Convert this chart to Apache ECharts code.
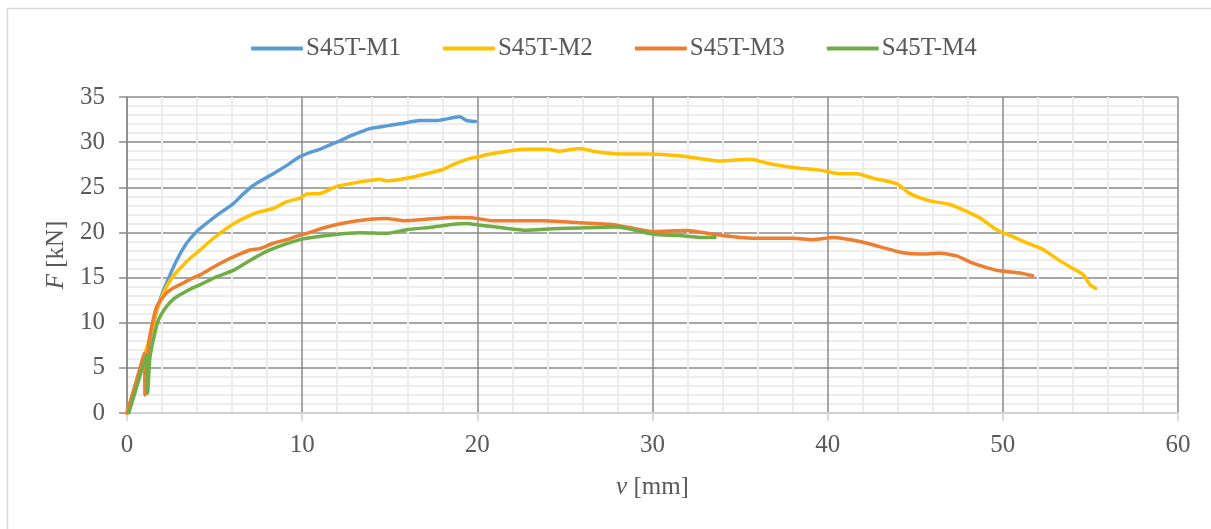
<!DOCTYPE html>
<html>
<head>
<meta charset="utf-8">
<script src="https://cdn.jsdelivr.net/npm/echarts@6/dist/echarts.min.js"></script>
<style>
html,body{margin:0;padding:0;background:#fff;}
#c{width:1211px;height:529px;}
</style>
</head>
<body>
<div id="c"></div>
<script>
// ---- data (v [mm], F [kN]) ----
const seriesNames = ['S45T-M1', 'S45T-M2', 'S45T-M3', 'S45T-M4'];
const xTicks = [0, 10, 20, 30, 40, 50, 60];
const yTicks = [0, 5, 10, 15, 20, 25, 30, 35];

const m1V = [0, 0.5, 1.0, 1.3, 1.5, 1.88, 2.26, 2.83, 3.4, 3.98, 4.6, 5.2, 6.07, 6.6, 7.21, 7.8, 8.35, 9.1, 9.88, 10.5, 11.0, 11.97, 12.9, 13.87, 14.8, 15.8, 16.7, 17.7, 18.6, 19.0, 19.4, 19.9];
const m1F = [0, 3.2, 6.4, 8.0, 9.9, 12.5, 14.4, 16.9, 18.8, 20.1, 21.1, 22.0, 23.2, 24.2, 25.2, 25.9, 26.5, 27.4, 28.4, 28.9, 29.2, 30.0, 30.8, 31.5, 31.8, 32.1, 32.4, 32.4, 32.7, 32.8, 32.4, 32.3];

const m2V = [0, 0.5, 1.0, 1.3, 1.7, 2.26, 2.7, 3.21, 3.7, 4.17, 4.9, 5.69, 6.3, 7.02, 7.59, 8.35, 9.12, 9.88, 10.26, 11.0, 11.97, 13.3, 14.44, 14.8, 15.97, 17.1, 18.06, 18.6, 19.58, 20.15, 20.5, 21.9, 22.8, 23.96, 24.7, 25.86, 26.6, 28.1, 29.67, 30.8, 32.3, 33.85, 34.6, 35.57, 36.5, 38.04, 39.56, 40.7, 41.66, 42.6, 43.94, 44.7, 45.84, 46.98, 47.74, 48.7, 49.65, 50.6, 51.55, 52.3, 53.07, 54.0, 54.6, 54.98, 55.3];
const m2F = [0, 3.2, 6.4, 8.3, 11.4, 14.0, 15.3, 16.4, 17.3, 18.05, 19.3, 20.45, 21.2, 21.9, 22.3, 22.65, 23.4, 23.8, 24.25, 24.3, 25.1, 25.6, 25.9, 25.7, 26.0, 26.5, 27.0, 27.5, 28.2, 28.4, 28.6, 29.05, 29.2, 29.2, 29.0, 29.3, 29.0, 28.7, 28.7, 28.6, 28.3, 27.9, 28.0, 28.1, 27.7, 27.2, 26.9, 26.5, 26.5, 26.0, 25.4, 24.3, 23.5, 23.1, 22.5, 21.6, 20.3, 19.5, 18.7, 18.1, 17.1, 16.0, 15.3, 14.2, 13.8];

const m3V = [0, 0.5, 0.99, 1.03, 1.22, 1.41, 1.7, 2.26, 2.7, 3.21, 3.7, 4.17, 4.8, 5.5, 6.2, 7.02, 7.59, 8.35, 9.12, 9.88, 10.26, 11.4, 12.54, 13.87, 14.8, 15.77, 16.73, 17.68, 18.6, 19.77, 20.9, 21.86, 23.77, 25.67, 27.57, 28.9, 30.05, 31.95, 33.47, 35.0, 36.5, 38.04, 39.18, 40.3, 41.85, 43.0, 44.3, 45.27, 46.4, 47.37, 48.1, 49.08, 49.8, 50.98, 51.7];
const m3F = [0, 3.3, 6.6, 2.0, 7.3, 9.6, 11.8, 13.3, 13.9, 14.4, 14.9, 15.3, 16.0, 16.75, 17.4, 18.05, 18.2, 18.8, 19.2, 19.7, 19.9, 20.6, 21.1, 21.45, 21.55, 21.3, 21.4, 21.55, 21.65, 21.6, 21.3, 21.3, 21.3, 21.1, 20.9, 20.45, 20.1, 20.2, 19.8, 19.45, 19.35, 19.35, 19.2, 19.45, 19.0, 18.4, 17.75, 17.6, 17.7, 17.4, 16.75, 16.1, 15.75, 15.5, 15.2];

const m4V = [0.1, 0.6, 1.12, 1.18, 1.3, 1.5, 1.79, 2.26, 2.7, 3.21, 3.7, 4.17, 5.12, 6.07, 7.02, 7.97, 9.12, 9.88, 10.26, 11.78, 13.3, 14.8, 15.97, 17.49, 18.6, 19.4, 20.15, 21.3, 22.8, 24.3, 25.86, 27.76, 28.5, 30.05, 31.57, 32.7, 33.57];
const m4F = [0, 3.2, 6.4, 2.2, 6.0, 8.1, 10.3, 11.8, 12.7, 13.3, 13.8, 14.2, 15.1, 15.8, 16.9, 17.9, 18.75, 19.2, 19.35, 19.75, 19.97, 19.9, 20.3, 20.6, 20.9, 21.0, 20.8, 20.55, 20.25, 20.4, 20.5, 20.6, 20.45, 19.8, 19.65, 19.45, 19.45];

const colors = ['#5B9BD5', '#FFC000', '#ED7D31', '#70AD47'];
const FONT = '"Liberation Serif", "DejaVu Serif", serif';
const TXT = '#595959';

function zip(a, b) { return a.map((v, i) => [v, b[i]]); }
const allData = [zip(m1V, m1F), zip(m2V, m2F), zip(m3V, m3F), zip(m4V, m4F)];

const chart = echarts.init(document.getElementById('c'), null, { renderer: 'canvas' });
chart.setOption({
  backgroundColor: '#ffffff',
  animation: false,
  color: colors,
  graphic: [{
    type: 'rect', left: 5, top: 6, z: -10,
    shape: { width: 1230, height: 540 },
    style: { fill: 'none', stroke: '#d9d9d9', lineWidth: 1.5 }
  }],
  legend: {
    left: 246, top: 31,
    icon: 'roundRect',
    itemWidth: 52, itemHeight: 4,
    itemGap: 42,
    textStyle: { fontFamily: FONT, fontSize: 25, color: TXT, padding: [0, 0, 0, -2] },
    data: seriesNames
  },
  grid: { left: 127, right: 33, top: 97, bottom: 116, containLabel: false },
  xAxis: {
    type: 'value', min: xTicks[0], max: xTicks[xTicks.length - 1], interval: 10,
    name: '{i|v} [mm]', nameLocation: 'middle', nameGap: 62,
    nameTextStyle: { fontFamily: FONT, fontSize: 25, color: TXT,
      rich: { i: { fontFamily: FONT, fontSize: 25, color: TXT, fontStyle: 'italic' } } },
    axisLine: { show: true, lineStyle: { color: '#d0d0d0', width: 2 } },
    axisTick: { show: true, length: 8, lineStyle: { color: '#d0d0d0', width: 1.5 } },
    axisLabel: { fontFamily: FONT, fontSize: 25, color: TXT, margin: 20 },
    splitLine: { show: true, lineStyle: { color: '#8a8a8a', width: 1.5 } },
    minorTick: { show: true, splitNumber: 5, length: 0 },
    minorSplitLine: { show: true, lineStyle: { color: '#ededed', width: 2 } }
  },
  yAxis: {
    type: 'value', min: yTicks[0], max: yTicks[yTicks.length - 1], interval: 5,
    name: '{i|F} [kN]', nameLocation: 'middle', nameGap: 58,
    nameTextStyle: { fontFamily: FONT, fontSize: 25, color: TXT,
      rich: { i: { fontFamily: FONT, fontSize: 25, color: TXT, fontStyle: 'italic' } } },
    axisLine: { show: true, lineStyle: { color: '#8a8a8a', width: 1.5 } },
    axisTick: { show: true, length: 8, lineStyle: { color: '#8a8a8a', width: 1.5 } },
    axisLabel: { fontFamily: FONT, fontSize: 25, color: TXT, margin: 22 },
    splitLine: { show: true, lineStyle: { color: '#8a8a8a', width: 1.5 } },
    minorTick: { show: true, splitNumber: 5, length: 0 },
    minorSplitLine: { show: true, lineStyle: { color: '#ededed', width: 2 } }
  },
  series: seriesNames.map((n, i) => ({
    name: n, type: 'line', data: allData[i],
    showSymbol: false, symbol: 'none', smooth: 0.2,
    lineStyle: { width: 3.5, color: colors[i], cap: 'round', join: 'round' },
    itemStyle: { color: colors[i] }
  }))
});
</script>
</body>
</html>
